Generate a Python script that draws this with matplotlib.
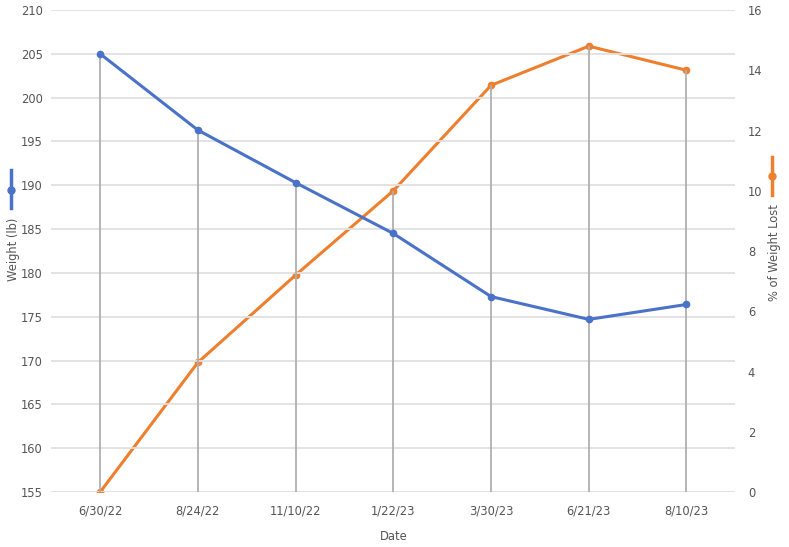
import numpy as np
import matplotlib.pyplot as plt
from matplotlib.lines import Line2D

# --- data ---
dates = ["6/30/22", "8/24/22", "11/10/22", "1/22/23", "3/30/23", "6/21/23", "8/10/23"]
weight_lb = [205.0, 196.3, 190.3, 184.5, 177.3, 174.7, 176.4]
pct_lost = [0.0, 4.3, 7.2, 10.0, 13.5, 14.8, 14.0]

BLUE = "#4a72c8"
ORANGE = "#ee7f2f"
GRID = "#e0e0e0"
DROP = "#b0b0b0"
TEXT = "#555555"

W_MIN, W_MAX = 155, 210
P_MIN, P_MAX = 0, 16

plt.rcParams.update({"font.family": "DejaVu Sans", "font.size": 8})

fig = plt.figure(figsize=(7.89, 5.47), dpi=100)
ax = fig.add_axes([0.065, 0.1005, 0.867, 0.8812])
ax2 = ax.twinx()

x = np.arange(len(dates))

# drop lines go up to whichever point is higher on screen
pct_on_left = W_MIN + np.array(pct_lost) / (P_MAX - P_MIN) * (W_MAX - W_MIN)
tops = np.maximum(weight_lb, pct_on_left)
ax.vlines(x, W_MIN, tops, color=DROP, linewidth=1.3, zorder=2)

ax.plot(x, weight_lb, color=BLUE, linewidth=2.2, marker="o", markersize=4.5, zorder=4)
ax2.plot(x, pct_lost, color=ORANGE, linewidth=2.2, marker="o", markersize=4.5, zorder=4)

ax.set_xlim(-0.5, 6.5)
ax.set_ylim(W_MIN, W_MAX)
ax2.set_ylim(P_MIN, P_MAX)
ax.set_yticks(np.arange(155, 211, 5))
ax2.set_yticks(np.arange(0, 17, 2))
ax.set_xticks(x)
ax.set_xticklabels(dates)

ax.grid(True, axis="y", color=GRID, linewidth=1.3)
ax.set_axisbelow(True)
for a in (ax, ax2):
    for s in a.spines.values():
        s.set_visible(False)
    a.tick_params(length=0, colors=TEXT, labelsize=8.3)
ax.tick_params(axis="y", pad=6)
ax.tick_params(axis="x", pad=9)
ax2.tick_params(axis="y", pad=9)
ax.set_zorder(ax2.get_zorder() + 1)
ax.patch.set_visible(False)

ax.set_xlabel("Date", color=TEXT, fontsize=8.3, labelpad=9)
fig.text(0.0165, 0.545, "Weight (lb)", rotation=90, ha="center", va="center",
         color=TEXT, fontsize=8.3)
fig.text(0.982, 0.539, "% of Weight Lost", rotation=90, ha="center", va="center",
         color=TEXT, fontsize=8.3)

# small vertical legend keys next to the axis titles
fig.add_artist(Line2D([0.0145, 0.0145], [0.620, 0.689], color=BLUE, linewidth=2.5,
                      transform=fig.transFigure))
fig.add_artist(Line2D([0.0145], [0.653], color=BLUE, marker="o", markersize=5,
                      transform=fig.transFigure))
fig.add_artist(Line2D([0.979, 0.979], [0.644, 0.713], color=ORANGE, linewidth=2.5,
                      transform=fig.transFigure))
fig.add_artist(Line2D([0.979], [0.678], color=ORANGE, marker="o", markersize=5,
                      transform=fig.transFigure))

fig.savefig("out.png", dpi=100)
